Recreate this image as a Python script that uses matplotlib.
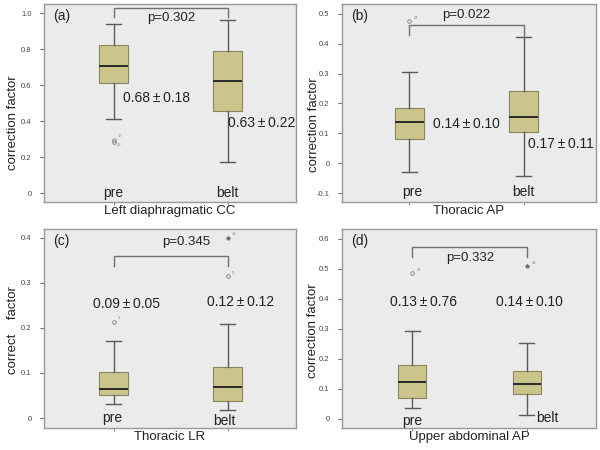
import numpy as np
import matplotlib.pyplot as plt

plt.rcParams['font.family'] = ['Liberation Sans', 'DejaVu Sans']

box_fill = '#CBC58C'
box_edge = '#8A8560'
line_gray = '#5A5A5A'
panel_bg = '#EBEBEB'
frame_col = '#999999'
text_col = '#222222'

groups = ['pre', 'belt']
panel_tags = ['(a)', '(b)', '(c)', '(d)']
region_names = ['Left diaphragmatic CC', 'Thoracic AP', 'Thoracic LR', 'Upper abdominal AP']
ylabels = ['correction factor', 'correction factor', 'correct    factor', 'correction factor']
p_values = ['p=0.302', 'p=0.022', 'p=0.345', 'p=0.332']
mean_sd_pre = ['0.68\u2009\u00b1\u20090.18', '0.14\u2009\u00b1\u20090.10',
               '0.09\u2009\u00b1\u20090.05', '0.13\u2009\u00b1\u20090.76']
mean_sd_belt = ['0.63\u2009\u00b1\u20090.22', '0.17\u2009\u00b1\u20090.11',
                '0.12\u2009\u00b1\u20090.12', '0.14\u2009\u00b1\u20090.10']

# box statistics per panel: [pre, belt]
whis_lo = [[0.41, 0.17], [-0.029, -0.042], [0.032, 0.017], [0.037, 0.011]]
q1 = [[0.61, 0.455], [0.082, 0.106], [0.050, 0.038], [0.069, 0.082]]
median = [[0.705, 0.625], [0.138, 0.154], [0.064, 0.069], [0.122, 0.116]]
q3 = [[0.82, 0.79], [0.184, 0.241], [0.101, 0.114], [0.180, 0.158]]
whis_hi = [[0.94, 0.96], [0.304, 0.424], [0.171, 0.209], [0.294, 0.254]]

# outliers: (group index, value, case number)
outliers = [
    [(0, 0.297, '17'), (0, 0.285, '25')],
    [(0, 0.475, '24')],
    [(0, 0.214, '3'), (1, 0.314, '5')],
    [(0, 0.486, '22')],
]
extremes = [[], [], [(1, 0.40, '12')], [(1, 0.51, '24')]]

ylims = [(-0.05, 1.05), (-0.13, 0.533), (-0.022, 0.419), (-0.031, 0.633)]
yticks = [[0, 0.2, 0.4, 0.6, 0.8, 1.0], [-0.1, 0, 0.1, 0.2, 0.3, 0.4, 0.5],
          [0, 0.1, 0.2, 0.3, 0.4], [0, 0.1, 0.2, 0.3, 0.4, 0.5, 0.6]]
ytick_labels = [['0', '0.2', '0.4', '0.6', '0.8', '1.0'],
                ['-0.1', '0', '0.1', '0.2', '0.3', '0.4', '0.5'],
                ['0', '0.1', '0.2', '0.3', '0.4'],
                ['0', '0.1', '0.2', '0.3', '0.4', '0.5', '0.6']]
xlims = [(0.39, 2.6), (0.41, 2.63), (0.39, 2.6), (0.39, 2.6)]

# bracket: top, pre leg bottom, belt leg bottom
brackets = [(1.03, 0.98, 0.98), (0.463, 0.43, 0.424), (0.359, 0.338, 0.338), (0.574, 0.541, 0.541)]
p_pos = [(1.51, 0.97), (1.50, 0.497), (1.635, 0.391), (1.51, 0.538)]
msd_pre_pos = [(1.083, 0.53, 'left'), (1.205, 0.13, 'left'), (1.11, 0.252, 'center'), (1.103, 0.391, 'center')]
msd_belt_pos = [(2.004, 0.39, 'left'), (2.035, 0.063, 'left'), (2.118, 0.258, 'center'), (2.025, 0.391, 'center')]
grp_pos = [[(1.0, 0.0), (1.995, 0.0)], [(1.02, -0.096), (2.0, -0.098)],
           [(0.99, 0.0), (1.97, -0.007)], [(1.0, -0.007), (2.18, 0.002)]]
ylabel_pos = [(-0.123, 0.40), (-0.11, 0.39), (-0.123, 0.49), (-0.114, 0.49)]

rects = [[0.0733, 0.551, 0.42, 0.44], [0.57, 0.551, 0.423, 0.44],
         [0.0733, 0.049, 0.42, 0.442], [0.57, 0.049, 0.423, 0.442]]

fig = plt.figure(figsize=(6, 4.5), dpi=100)
fig.patch.set_facecolor('white')

for k in range(4):
    ax = fig.add_axes(rects[k])
    ax.set_facecolor(panel_bg)
    for s in ax.spines.values():
        s.set_color(frame_col)
        s.set_linewidth(1.0)

    stats = []
    for g in range(2):
        stats.append({'med': median[k][g], 'q1': q1[k][g], 'q3': q3[k][g],
                      'whislo': whis_lo[k][g], 'whishi': whis_hi[k][g],
                      'fliers': [], 'label': groups[g]})
    ax.bxp(stats, positions=[1, 2], widths=0.25, capwidths=0.13, patch_artist=True,
           showfliers=False,
           boxprops=dict(facecolor=box_fill, edgecolor=box_edge, linewidth=0.8),
           medianprops=dict(color='#2A2A2A', linewidth=1.4),
           whiskerprops=dict(color=line_gray, linewidth=1.0),
           capprops=dict(color=line_gray, linewidth=1.0))

    span = ylims[k][1] - ylims[k][0]
    seen = set()
    for g, v, lab in outliers[k]:
        ax.plot(g + 1, v, 'o', ms=2.6, mfc='none', mec='#808080', mew=0.6)
        # second outlier in the same box gets its number below
        if g in seen:
            ax.text(g + 1 + 0.03, v - 0.004 * span, lab, fontsize=3, color='#808080', va='top')
        else:
            ax.text(g + 1 + 0.04, v + 0.006 * span, lab, fontsize=3, color='#808080', va='bottom')
        seen.add(g)
    for g, v, lab in extremes[k]:
        ax.plot(g + 1, v, '*', ms=2.8, color='#707070')
        ax.text(g + 1 + 0.04, v + 0.006 * span, lab, fontsize=3, color='#808080', va='bottom')

    top, lp, lb = brackets[k]
    ax.plot([1, 1, 2, 2], [lp, top, top, lb], color='#707070', lw=1.0)
    ax.text(p_pos[k][0], p_pos[k][1], p_values[k], fontsize=9.5, color=text_col,
            ha='center', va='center')

    x, y, ha = msd_pre_pos[k]
    ax.text(x, y, mean_sd_pre[k], fontsize=10, color=text_col, ha=ha, va='center')
    x, y, ha = msd_belt_pos[k]
    ax.text(x, y, mean_sd_belt[k], fontsize=10, color=text_col, ha=ha, va='center')

    for g in range(2):
        ax.text(grp_pos[k][g][0], grp_pos[k][g][1], groups[g], fontsize=10,
                color=text_col, ha='center', va='center')

    ax.text(0.07, 0.94, panel_tags[k], transform=ax.transAxes, fontsize=10,
            color=text_col, ha='center', va='center')
    ax.text(0.5, -0.045, region_names[k], transform=ax.transAxes, fontsize=9.5,
            color=text_col, ha='center', va='center')
    ax.text(ylabel_pos[k][0], ylabel_pos[k][1], ylabels[k], transform=ax.transAxes,
            fontsize=9.5, color=text_col, ha='center', va='center', rotation=90)

    ax.set_xlim(*xlims[k])
    ax.set_ylim(*ylims[k])
    ax.set_yticks(yticks[k])
    ax.set_yticklabels(ytick_labels[k])
    ax.set_xticks([1, 2])
    ax.set_xticklabels(['', ''])
    ax.tick_params(axis='y', labelsize=5.5, labelcolor='#444444', color='#707070',
                   length=3, width=0.8, pad=6)
    ax.tick_params(axis='x', color='#909090', length=2, width=0.8)

fig.savefig('out.png', dpi=100, facecolor='white')
